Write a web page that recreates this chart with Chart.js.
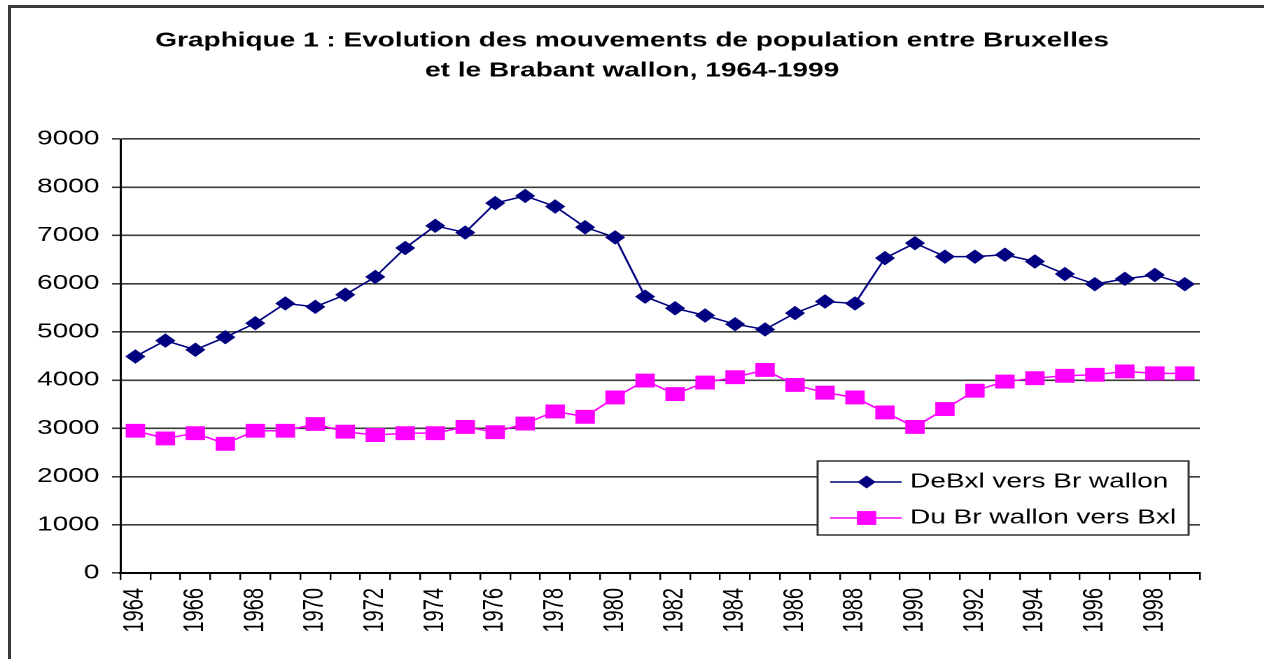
<!DOCTYPE html>
<html>
<head>
<meta charset="utf-8">
<script src="https://cdn.jsdelivr.net/npm/chart.js@4.4.1/dist/chart.umd.min.js"></script>
<style>
  html, body { margin: 0; padding: 0; background: #fff; overflow: hidden; }
  #frame {
    position: absolute; left: 8px; top: 5px; width: 1300px; height: 700px;
    border-top: 3px solid #3a3a3a; border-left: 3px solid #3a3a3a;
  }
  /* the original picture is stretched sideways, so draw narrow and widen */
  #wrap {
    position: absolute; left: 0; top: 0; width: 903px; height: 659px;
    transform: scaleX(1.4); transform-origin: 0 0;
  }
</style>
</head>
<body>
<div id="frame"></div>
<div id="wrap"><canvas id="myChart"></canvas></div>
<script>
// data
const years = ["1964", "1965", "1966", "1967", "1968", "1969", "1970", "1971", "1972", "1973",
  "1974", "1975", "1976", "1977", "1978", "1979", "1980", "1981", "1982", "1983",
  "1984", "1985", "1986", "1987", "1988", "1989", "1990", "1991", "1992", "1993",
  "1994", "1995", "1996", "1997", "1998", "1999"];
const deBxl = [4490, 4820, 4630, 4890, 5180, 5590, 5520, 5770, 6140, 6740,
  7200, 7060, 7670, 7820, 7600, 7170, 6960, 5730, 5490, 5340,
  5160, 5050, 5390, 5630, 5590, 6530, 6840, 6560, 6560, 6600,
  6460, 6200, 5990, 6100, 6180, 5990];
const duBrw = [2950, 2790, 2900, 2680, 2950, 2950, 3090, 2930, 2860, 2900,
  2900, 3030, 2920, 3100, 3350, 3240, 3640, 3990, 3710, 3950,
  4060, 4210, 3900, 3740, 3640, 3330, 3030, 3400, 3780, 3970,
  4040, 4090, 4110, 4180, 4140, 4140];
const seriesNames = ["DeBxl vers Br wallon", "Du Br wallon vers Bxl"];
const titleLines = ["Graphique 1 : Evolution des mouvements de population entre Bruxelles",
  "et le Brabant wallon, 1964-1999"];

const FONT = '"Liberation Sans", Arial, sans-serif';

// legend box drawn inside the plot, bottom right
const boxLegend = {
  id: 'boxLegend',
  afterDraw(chart) {
    const ctx = chart.ctx;
    const ca = chart.chartArea;
    const w = 265, h = 74;
    const x = ca.right - 8 - w;
    const y = ca.bottom - 38 - h;
    ctx.save();
    ctx.fillStyle = '#fff';
    ctx.fillRect(x, y, w, h);
    ctx.strokeStyle = '#333';
    ctx.lineWidth = 1.5;
    ctx.strokeRect(x, y, w, h);
    ctx.font = '20px ' + FONT;
    ctx.textBaseline = 'middle';
    chart.data.datasets.forEach(function(ds, i) {
      const cy = y + 21 + i * 36;
      const mx = x + 35;
      ctx.strokeStyle = ds.borderColor;
      ctx.lineWidth = ds.borderWidth;
      ctx.beginPath();
      ctx.moveTo(x + 9, cy);
      ctx.lineTo(x + 60, cy);
      ctx.stroke();
      ctx.fillStyle = ds.pointBackgroundColor;
      ctx.beginPath();
      if (ds.pointStyle === 'rectRot') {
        const r = ds.pointRadius;
        ctx.moveTo(mx, cy - r);
        ctx.lineTo(mx + r, cy);
        ctx.lineTo(mx, cy + r);
        ctx.lineTo(mx - r, cy);
        ctx.closePath();
      } else {
        const s = ds.pointRadius * Math.SQRT1_2;
        ctx.rect(mx - s, cy - s, 2 * s, 2 * s);
      }
      ctx.fill();
      ctx.fillStyle = '#000';
      ctx.fillText(ds.label, x + 66, cy);
    });
    ctx.restore();
  }
};

const config = {
  type: 'line',
  data: {
    labels: years,
    datasets: [{
      label: seriesNames[0],
      data: deBxl,
      borderColor: '#000080',
      backgroundColor: '#000080',
      pointBackgroundColor: '#000080',
      pointBorderColor: '#000080',
      borderWidth: 1.5,
      pointStyle: 'rectRot',
      pointRadius: 6.5,
      pointBorderWidth: 1,
      tension: 0
    }, {
      label: seriesNames[1],
      data: duBrw,
      borderColor: '#ff00ff',
      backgroundColor: '#ff00ff',
      pointBackgroundColor: '#ff00ff',
      pointBorderColor: '#ff00ff',
      borderWidth: 1.5,
      pointStyle: 'rect',
      pointRadius: 9.8,
      pointBorderWidth: 0,
      tension: 0
    }]
  },
  options: {
    responsive: true,
    maintainAspectRatio: false,
    animation: false,
    devicePixelRatio: 2,
    layout: { padding: 0 },
    plugins: {
      legend: { display: false },
      tooltip: { enabled: false },
      title: {
        display: true,
        text: titleLines,
        color: '#000',
        font: { family: FONT, size: 20, weight: 'bold', lineHeight: 1.5 },
        padding: { top: 26, bottom: 53 }
      }
    },
    scales: {
      x: {
        offset: true,
        grid: {
          offset: true,
          drawOnChartArea: false,
          drawTicks: true,
          tickLength: 7,
          color: '#000',
          lineWidth: 1.2
        },
        border: { display: true, color: '#000', width: 2 },
        ticks: {
          autoSkip: false,
          minRotation: 90,
          maxRotation: 90,
          padding: 8,
          color: '#000',
          font: { family: FONT, size: 20 },
          callback: function(v, i) { return i % 2 === 0 ? years[i] : ''; }
        },
        afterFit: function(scale) { scale.height = 86; }
      },
      y: {
        min: 0,
        max: 9000,
        grid: {
          color: '#3a3a3a',
          lineWidth: 1.6,
          drawTicks: true,
          tickLength: 6
        },
        border: { display: true, color: '#000', width: 1.5 },
        ticks: {
          stepSize: 1000,
          padding: 9,
          color: '#000',
          font: { family: FONT, size: 20 },
          callback: function(v) { return String(v); }
        },
        afterFit: function(scale) { scale.width = 86; }
      },
      // empty right margin, keeps the title centred on the whole picture
      spacer: {
        type: 'linear',
        position: 'right',
        display: true,
        grid: { drawOnChartArea: false, drawTicks: false },
        border: { display: false },
        ticks: { display: false },
        afterFit: function(scale) { scale.width = 46; }
      }
    }
  },
  plugins: [boxLegend]
};

const myChart = new Chart(document.getElementById('myChart'), config);
</script>
</body>
</html>
